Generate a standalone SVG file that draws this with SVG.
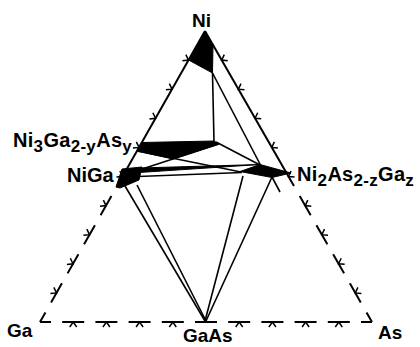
<svg xmlns="http://www.w3.org/2000/svg" xmlns:xlink="http://www.w3.org/1999/xlink" width="420" height="347" viewBox="0 0 420 347">
<style>
.side{stroke:#000;stroke-width:2;fill:none}
.tie{stroke:#000;stroke-width:1.6;fill:none}
.blk{fill:#000;stroke:#000;stroke-width:1;stroke-linejoin:round}
.tk{stroke:#000;stroke-width:1.5;fill:none}
.lb{font-family:"Liberation Sans",Arial,Helvetica,sans-serif;font-weight:bold;font-size:19px;fill:#000}
.lb2{font-size:20px;letter-spacing:0.3px}
.sub{font-size:17px}
</style>
<defs>
<path id="tk" class="tk" d="M-3.5,5 L0,0 L3.5,5"/>
</defs>
<rect width="420" height="347" fill="#fff"/>

<g id="frame">
<line class="side" x1="205" y1="31" x2="122.5" y2="176.5"/>
<line class="side" x1="205" y1="31" x2="288.5" y2="176.5"/>
<path class="side" d="M40,322 L122.5,176.5" stroke-dasharray="22 11.45" stroke-dashoffset="11"/>
<path class="side" d="M372,322 L288.5,176.5" stroke-dasharray="22 11.55" stroke-dashoffset="11"/>
<path class="side" d="M40,322 L372,322" stroke-dasharray="22 11.2" stroke-dashoffset="11"/>
<g id="ticks-left">
<use href="#tk" transform="translate(188.5,60.1) rotate(119.5)"/>
<use href="#tk" transform="translate(172,89.2) rotate(119.5)"/>
<use href="#tk" transform="translate(155.5,118.3) rotate(119.5)"/>
<use href="#tk" transform="translate(139,147.4) rotate(119.5)"/>
<use href="#tk" transform="translate(122.5,176.5) rotate(119.5)"/>
<use href="#tk" transform="translate(106,205.6) rotate(119.5)"/>
<use href="#tk" transform="translate(89.5,234.7) rotate(119.5)"/>
<use href="#tk" transform="translate(73,263.8) rotate(119.5)"/>
<use href="#tk" transform="translate(56.5,292.9) rotate(119.5)"/>
</g>
<g id="ticks-right">
<use href="#tk" transform="translate(221.7,60.1) rotate(-120)"/>
<use href="#tk" transform="translate(238.4,89.2) rotate(-120)"/>
<use href="#tk" transform="translate(255.1,118.3) rotate(-120)"/>
<use href="#tk" transform="translate(271.8,147.4) rotate(-120)"/>
<use href="#tk" transform="translate(288.5,176.5) rotate(-120)"/>
<use href="#tk" transform="translate(305.2,205.6) rotate(-120)"/>
<use href="#tk" transform="translate(321.9,234.7) rotate(-120)"/>
<use href="#tk" transform="translate(338.6,263.8) rotate(-120)"/>
<use href="#tk" transform="translate(355.3,292.9) rotate(-120)"/>
</g>
<g id="ticks-base">
<use href="#tk" transform="translate(73.2,322)"/>
<use href="#tk" transform="translate(106.4,322)"/>
<use href="#tk" transform="translate(139.6,322)"/>
<use href="#tk" transform="translate(172.8,322)"/>
<use href="#tk" transform="translate(239.2,322)"/>
<use href="#tk" transform="translate(272.4,322)"/>
<use href="#tk" transform="translate(305.6,322)"/>
<use href="#tk" transform="translate(338.8,322)"/>
</g>
</g>

<g id="connectors">
<line class="tie" x1="212.5" y1="73" x2="214" y2="142"/>
<line class="tie" x1="212.5" y1="73" x2="261" y2="166"/>
<line class="tie" x1="216" y1="142" x2="260" y2="165"/>
<line class="tie" x1="137" y1="151" x2="241" y2="172"/>
<line class="tie" x1="219" y1="144" x2="139" y2="170"/>
<polygon class="blk" points="139,168 260,164.5 139,172.5"/>
<line class="tie" x1="138" y1="176.5" x2="242" y2="172.5"/>
<line class="tie" x1="125" y1="186" x2="205" y2="321"/>
<line class="tie" x1="137" y1="185" x2="206" y2="321"/>
<line class="tie" x1="243" y1="176" x2="205" y2="321"/>
<line class="tie" x1="272" y1="177" x2="206" y2="321"/>
<line class="tie" x1="272" y1="177" x2="280" y2="192"/>
</g>

<g id="node-Ni">
<polygon class="blk" points="205,31 213,45 212.5,73 188.6,60"/>
<text class="lb" x="192" y="27">Ni</text>
</g>

<g id="node-Ni3Ga2-yAsy">
<polygon class="blk" points="141.5,142.5 214,141 219,144 173,159 137,151"/>
<text class="lb lb2" x="13" y="147">Ni<tspan class="sub" dy="4.5">3</tspan><tspan dy="-4.5">Ga</tspan><tspan class="sub" dy="4.5">2-y</tspan><tspan dy="-4.5">As</tspan><tspan class="sub" dy="4.5">y</tspan></text>
</g>

<g id="node-NiGa">
<polygon class="blk" points="122,169 142,167 139,180 120,188 116,187"/>
<text class="lb" x="67" y="181.5" style="font-size:20px">NiGa</text>
</g>

<g id="node-Ni2As2-zGaz">
<polygon class="blk" points="240,171.5 260,164.5 291,173 272,177.5"/>
<text class="lb lb2" x="297" y="181">Ni<tspan class="sub" dy="5">2</tspan><tspan dy="-5">As</tspan><tspan class="sub" dy="5">2-z</tspan><tspan dy="-5">Ga</tspan><tspan class="sub" dy="5">z</tspan></text>
</g>

<g id="node-Ga">
<text class="lb" x="7" y="337">Ga</text>
</g>

<g id="node-GaAs">
<text class="lb" x="183" y="342">GaAs</text>
</g>

<g id="node-As">
<text class="lb" x="378" y="339">As</text>
</g>
</svg>
